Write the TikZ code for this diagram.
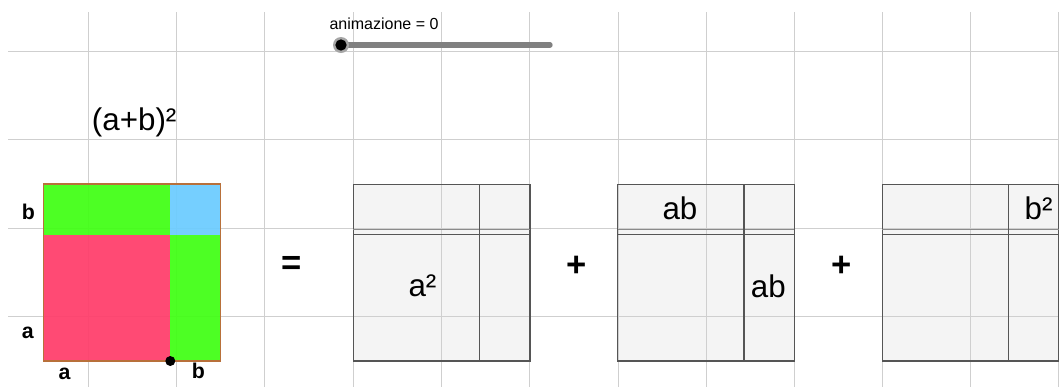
\documentclass[tikz,border=0pt]{standalone}
\usepackage{fontspec}
\setmainfont{Liberation Sans}
\definecolor{ggreen}{HTML}{40FF14}
\definecolor{gred}{HTML}{FF3D6A}
\definecolor{gblue}{HTML}{6BCCFF}
\definecolor{gborder}{HTML}{B8703A}
\definecolor{gridc}{HTML}{CFCFCF}
\definecolor{boxfill}{HTML}{F4F4F4}
\definecolor{boxline}{HTML}{555555}
\definecolor{midline}{HTML}{8A8A8A}
\definecolor{slidec}{HTML}{808080}
\begin{document}
\begin{tikzpicture}[x=0.75pt,y=-0.75pt,
  gridline/.style={gridc,line width=0.85pt},
  boxedge/.style={boxline,line width=1.1pt},
  biglbl/.style={inner sep=0pt,anchor=base west,font=\fontsize{23.5}{28}\selectfont},
  boldlbl/.style={inner sep=0pt,anchor=base west,font=\fontsize{16}{19}\selectfont\bfseries},
  oplbl/.style={inner sep=0pt,font=\fontsize{26}{30}\selectfont\bfseries},
  smalllbl/.style={inner sep=0pt,anchor=base west,font=\fontsize{12}{14}\selectfont}]
\useasboundingbox (0,0) rectangle (1059,387);
\fill[white] (0,0) rectangle (1059,387);
% box fills
\foreach \L in {353.3,617.7,882.3}
  \fill[boxfill] (\L,184.3) rectangle ++(176.6,176.7);
% grid
\foreach \gx in {88.5,176.5,264.5,353.5,441.5,529.5,618.5,706.5,794.5,882.5,970.5,1058.5}
  \draw[gridline] (\gx,12) -- (\gx,387);
\foreach \gy in {51.5,139.5,228.5,316.5}
  \draw[gridline] (8,\gy) -- (1059,\gy);
% big square
\begin{scope}[opacity=0.93]
\fill[gred] (43.5,235) rectangle (170.3,361);
\fill[ggreen] (43.5,184) rectangle (170.3,235);
\fill[ggreen] (170.3,235) rectangle (220.7,361);
\fill[gblue] (170.3,184) rectangle (220.7,235);
\end{scope}
\draw[gborder,line width=0.9pt] (43.5,184) rectangle (220.7,361);
\node[circle,fill=black,inner sep=0pt,minimum size=7.5pt] (pdot) at (170.3,361) {};
% gray boxes
\foreach \L in {353.3,617.7,882.3}{
  \draw[boxedge] (\L,184.3) rectangle ++(176.6,176.7);
  \draw[midline,line width=1pt] (\L,229.5) -- ++(176.6,0);
  \draw[boxedge] (\L,234.5) -- ++(176.6,0);
  \draw[boxedge] ({\L+126.3},184.3) -- ++(0,176.7);
}
% slider
\draw[slidec,line width=4pt,line cap=round] (341,45) -- (550,45);
\node[circle,fill=slidec!70,inner sep=0pt,minimum size=12pt] (shalo) at (341,45) {};
\node[circle,fill=black,inner sep=0pt,minimum size=8.5pt] (sdot) at (341,45) {};
\node[smalllbl] (slbl) at (329.3,29.3) {animazione = 0};
% labels
\node[biglbl] (title) at (91.7,130.7) {(a+b)²};
\node[biglbl] (asq) at (408.3,296) {a²};
\node[biglbl] (ab1) at (662.3,219.3) {ab};
\node[biglbl] (ab2) at (750.7,297.7) {ab};
\node[biglbl] (bsq) at (1024.3,219.3) {b²};
\node[boldlbl] (lb) at (21.7,219.3) {b};
\node[boldlbl] (la) at (21.7,338.3) {a};
\node[boldlbl] (ba) at (58.3,379.3) {a};
\node[boldlbl] (bb) at (191.7,378.3) {b};
\node[oplbl] (eq) at (292,265) {=};
\node[oplbl] (p1) at (577,266) {+};
\node[oplbl] (p2) at (842,266) {+};
\end{tikzpicture}
\end{document}
